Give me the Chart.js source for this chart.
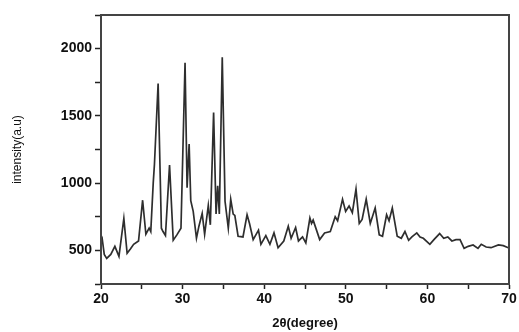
<!DOCTYPE html>
<html>
<head>
<meta charset="utf-8">
<script src="https://cdn.jsdelivr.net/npm/chart.js@4/dist/chart.umd.min.js"></script>
<style>
  html, body { margin: 0; padding: 0; background: #fff; }
  #wrap { width: 519px; height: 332px; }
</style>
</head>
<body>
<div id="wrap"><canvas id="xrd"></canvas></div>
<script>
// 2theta positions (degree) and intensity (a.u)
const twoTheta = [
  20.0, 20.15, 20.4, 20.7, 21.2, 21.7, 22.2, 22.8, 23.2, 23.6,
  24.0, 24.6, 25.1, 25.5, 25.9, 26.1, 26.4, 26.55, 27.0, 27.4,
  27.6, 27.9, 28.4, 28.85, 29.3, 29.8, 30.3, 30.55, 30.8, 31.0,
  31.3, 31.7, 32.0, 32.4, 32.7, 33.15, 33.4, 33.8, 34.1, 34.3,
  34.5, 34.86, 35.2, 35.6, 35.9, 36.2, 36.4, 36.8, 37.4, 37.9,
  38.2, 38.65, 39.3, 39.6, 40.2, 40.7, 41.2, 41.7, 42.4, 42.95,
  43.3, 43.85, 44.2, 44.7, 45.1, 45.6, 45.8, 46.0, 46.8, 47.4,
  48.1, 48.7, 49.0, 49.6, 49.98, 50.4, 50.8, 51.25, 51.65, 52.0,
  52.5, 53.0, 53.6, 54.1, 54.5, 55.0, 55.3, 55.7, 56.3, 56.8,
  57.25, 57.7, 58.1, 58.7, 59.1, 59.5, 60.3, 60.8, 61.5, 62.0,
  62.5, 63.0, 63.5, 64.0, 64.5, 65.0, 65.6, 66.2, 66.6, 67.2,
  67.8, 68.7, 69.3, 69.9, 70.0
];
const intensity = [
  560, 585, 470, 440, 470, 530, 455, 738, 478, 510,
  545, 570, 873, 620, 665, 640, 1000, 1140, 1740, 665,
  640, 610, 1135, 575, 615, 665, 1895, 965, 1290, 870,
  790, 590, 680, 775, 620, 835, 690, 1525, 770, 980,
  770, 1935, 865, 665, 880, 770, 760, 605, 600, 765,
  700, 580, 650, 545, 610, 545, 630, 520, 570, 680,
  590, 670, 570, 600, 555, 740, 700, 725, 580, 630,
  640, 750, 720, 880, 790, 830, 780, 955, 700, 730,
  880, 700, 815, 615, 605, 765, 720, 815, 605, 590,
  640, 575, 600, 630, 600, 590, 545, 580, 625, 590,
  600, 570, 580, 580, 515, 530, 540, 515, 545, 525,
  520, 540, 535, 520, 520
];
const xTicks = [20, 30, 40, 50, 60, 70];
const yTicks = [500, 1000, 1500, 2000];

const points = twoTheta.map((t, i) => ({ x: t, y: intensity[i] }));

// box round the plot (top and right edges)
const frame = {
  id: 'frame',
  afterDatasetsDraw(chart) {
    const { ctx, chartArea: a } = chart;
    ctx.save();
    ctx.strokeStyle = '#444';
    ctx.lineWidth = 2;
    ctx.strokeRect(a.left, a.top, a.right - a.left, a.bottom - a.top);
    ctx.restore();
  }
};

const chart = new Chart(document.getElementById('xrd'), {
  type: 'scatter',
  data: {
    datasets: [{
      data: points,
      showLine: true,
      borderColor: '#2e2e2e',
      borderWidth: 1.7,
      pointRadius: 0,
      tension: 0
    }]
  },
  options: {
    responsive: true,
    maintainAspectRatio: false,
    animation: false,
    layout: { padding: { top: 15, right: 10, left: 0, bottom: 0 } },
    plugins: { legend: { display: false }, tooltip: { enabled: false } },
    scales: {
      x: {
        type: 'linear',
        min: 20, max: 70,
        afterFit(scale) { scale.height = 48; },
        ticks: {
          stepSize: 5,
          color: '#111',
          font: { family: 'Liberation Sans', size: 14, weight: 'bold' },
          padding: 2,
          maxRotation: 0,
          callback: v => xTicks.includes(v) ? String(v) : ''
        },
        grid: { drawOnChartArea: false, tickLength: 5, color: '#222', tickWidth: 1.5 },
        border: { color: '#222', width: 2 },
        title: {
          display: true,
          text: '2θ(degree)',
          color: '#111',
          font: { family: 'Liberation Sans', size: 13, weight: 'bold' },
          padding: { top: 0, bottom: 1 }
        }
      },
      y: {
        min: 250, max: 2250,
        afterFit(scale) { scale.width = 101; },
        ticks: {
          stepSize: 250,
          color: '#111',
          font: { family: 'Liberation Sans', size: 14, weight: 'bold' },
          padding: 3,
          callback: v => yTicks.includes(v) ? String(v) : ''
        },
        grid: { drawOnChartArea: false, tickLength: 6, color: '#222', tickWidth: 1.5 },
        border: { color: '#222', width: 2 },
        title: {
          display: true,
          text: 'intensity(a.u)',
          color: '#111',
          font: { family: 'Liberation Sans', size: 12 },
          padding: { top: 10, bottom: 0 }
        }
      }
    }
  },
  plugins: [frame]
});
</script>
</body>
</html>
